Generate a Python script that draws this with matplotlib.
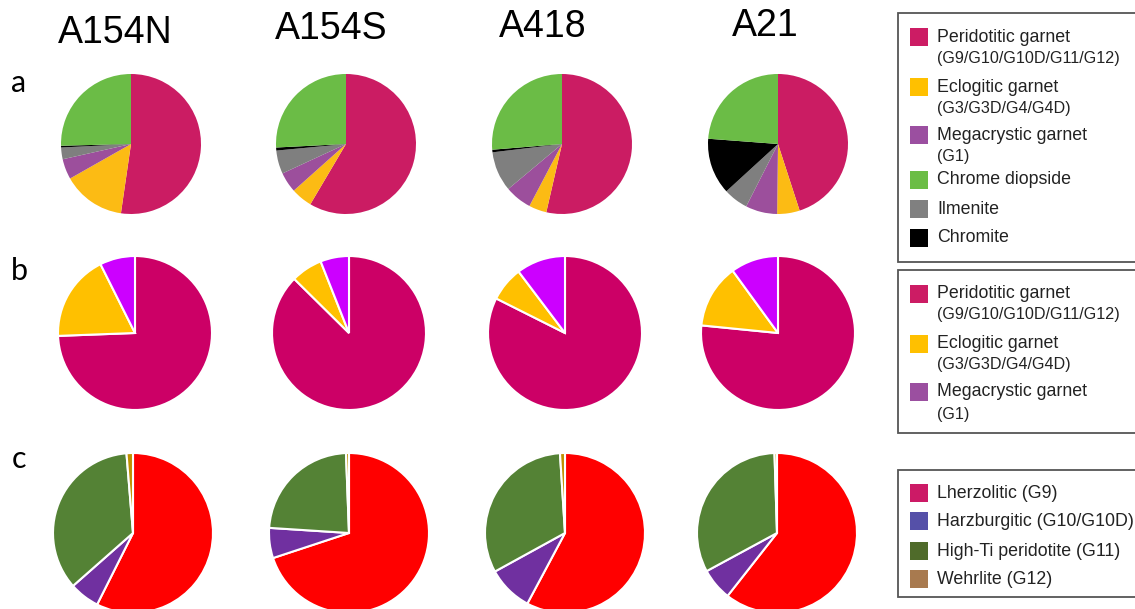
import matplotlib
matplotlib.use("Agg")
import matplotlib.pyplot as plt
from matplotlib.patches import Rectangle

# sites (columns)
sites = ['A154N', 'A154S', 'A418', 'A21']

# row a - all indicator minerals (%), clockwise from 12 o'clock
a_peridotitic = [52.3, 58.5, 53.6, 45.0]
a_eclogitic = [14.5, 4.9, 4.1, 5.2]
a_megacrystic = [4.7, 4.7, 6.2, 7.3]
a_ilmenite = [2.7, 5.4, 9.2, 5.7]
a_chromite = [0.4, 0.7, 0.6, 13.0]
a_diopside = [25.4, 25.8, 26.3, 23.8]

# row b - garnets only
b_peridotitic = [74.4, 87.4, 82.4, 76.5]
b_eclogitic = [18.2, 6.6, 7.3, 13.4]
b_megacrystic = [7.4, 6.0, 10.3, 10.0]

# row c - peridotitic garnet classes
c_lherzolitic = [57.4, 70.0, 57.8, 60.6]
c_harzburgitic = [6.1, 6.1, 9.2, 6.5]
c_high_ti = [35.2, 23.4, 32.0, 32.4]
c_wehrlite = [1.3, 0.6, 1.0, 0.5]

legend_a = [('Peridotitic garnet', '(G9/G10/G10D/G11/G12)'),
            ('Eclogitic garnet', '(G3/G3D/G4/G4D)'),
            ('Megacrystic garnet', '(G1)'),
            ('Chrome diopside', None),
            ('Ilmenite', None),
            ('Chromite', None)]
legend_b = legend_a[:3]
legend_c = [('Lherzolitic (G9)', None),
            ('Harzburgitic (G10/G10D)', None),
            ('High-Ti peridotite (G11)', None),
            ('Wehrlite (G12)', None)]

cols_a = ['#CB1C63', '#FCBB14', '#9C4F9C', '#7F7F7F', '#000000', '#6BBC46']
cols_b = ['#CC0066', '#FFC000', '#CC00FF']
cols_c = ['#FF0000', '#7030A0', '#548235', '#BF9000']
leg_cols_a = ['#CC1C64', '#FFC000', '#9B4FA0', '#6BBD45', '#808080', '#000000']
leg_cols_c = ['#CC1A66', '#5550A8', '#4F6B2A', '#A87A4F']

W, H = 1135, 609
fig = plt.figure(figsize=(W / 100, H / 100), dpi=100)
ax = fig.add_axes([0, 0, 1, 1])

def Y(y):
    # pixel row (from top) -> data y
    return H - y

x_a = [131, 346, 562, 778]
x_b = [135, 349, 565, 778]
x_c = [133, 349, 565, 777]

for i in range(4):
    va = [a_peridotitic[i], a_eclogitic[i], a_megacrystic[i],
          a_ilmenite[i], a_chromite[i], a_diopside[i]]
    ax.pie(va, colors=cols_a, startangle=90, counterclock=False,
           center=(x_a[i], Y(144)), radius=70,
           wedgeprops=dict(linewidth=0))
    vb = [b_peridotitic[i], b_eclogitic[i], b_megacrystic[i]]
    ax.pie(vb, colors=cols_b, startangle=90, counterclock=False,
           center=(x_b[i], Y(333)), radius=77,
           wedgeprops=dict(edgecolor='white', linewidth=1.5))
    vc = [c_lherzolitic[i], c_harzburgitic[i], c_high_ti[i], c_wehrlite[i]]
    ax.pie(vc, colors=cols_c, startangle=90, counterclock=False,
           center=(x_c[i], Y(533)), radius=80,
           wedgeprops=dict(edgecolor='white', linewidth=1.5))

# column titles
title_x = [115, 331, 543, 765]
title_y = [33, 29, 27, 26]
for t, tx, ty in zip(sites, title_x, title_y):
    ax.text(tx, Y(ty), t, fontsize=27, family='Liberation Sans',
            ha='center', va='center', color='black')

# row letters
for lab, ly in zip(['a', 'b', 'c'], [83, 271, 459]):
    ax.text(19, Y(ly), lab, fontsize=22, family='Lato',
            ha='center', va='center', color='black')

# legends
def legend_box(top, bottom, entries, colors, rows):
    ax.add_patch(Rectangle((898, Y(bottom)), 260, bottom - top,
                           facecolor='white', edgecolor='#555555',
                           linewidth=1.3, clip_on=True))
    for (main, sub), c, (y1, y2) in zip(entries, colors, rows):
        ax.add_patch(Rectangle((910, Y(y1) - 9), 18, 18, facecolor=c,
                               edgecolor='none'))
        ax.text(937, Y(y1), main, fontsize=12.8, family='Liberation Sans',
                ha='left', va='center', color='#222222')
        if sub:
            ax.text(937, Y(y2), sub, fontsize=11.6, family='Liberation Sans',
                    ha='left', va='center', color='#222222')

legend_box(13, 262, legend_a, leg_cols_a,
           [(37, 59), (87, 108), (135, 157), (180, None), (209, None), (238, None)])
legend_box(270, 433, legend_b, leg_cols_a[:3],
           [(294, 315), (344, 364), (392, 414)])
legend_box(470, 597, legend_c, leg_cols_c,
           [(493, None), (521, None), (551, None), (579, None)])

ax.set_xlim(0, W)
ax.set_ylim(0, H)
ax.set_aspect('equal')
ax.axis('off')

fig.savefig('out.png', dpi=100, facecolor='white')
